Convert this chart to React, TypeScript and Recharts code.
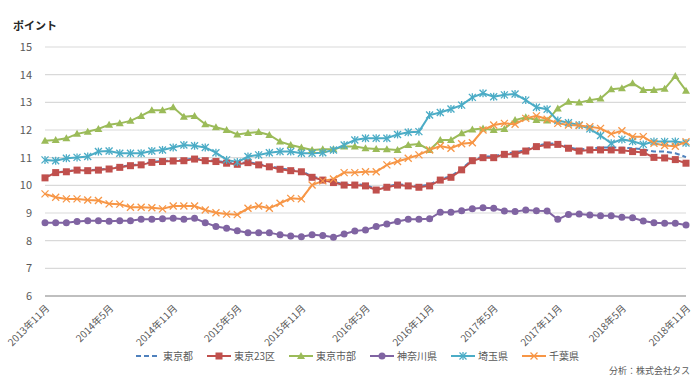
import React from "react";
import { LineChart, Line, XAxis, YAxis, CartesianGrid } from "recharts";

const months = [
  "2013年11月", "2013年12月", "2014年1月", "2014年2月", "2014年3月", "2014年4月",
  "2014年5月", "2014年6月", "2014年7月", "2014年8月", "2014年9月", "2014年10月",
  "2014年11月", "2014年12月", "2015年1月", "2015年2月", "2015年3月", "2015年4月",
  "2015年5月", "2015年6月", "2015年7月", "2015年8月", "2015年9月", "2015年10月",
  "2015年11月", "2015年12月", "2016年1月", "2016年2月", "2016年3月", "2016年4月",
  "2016年5月", "2016年6月", "2016年7月", "2016年8月", "2016年9月", "2016年10月",
  "2016年11月", "2016年12月", "2017年1月", "2017年2月", "2017年3月", "2017年4月",
  "2017年5月", "2017年6月", "2017年7月", "2017年8月", "2017年9月", "2017年10月",
  "2017年11月", "2017年12月", "2018年1月", "2018年2月", "2018年3月", "2018年4月",
  "2018年5月", "2018年6月", "2018年7月", "2018年8月", "2018年9月", "2018年10月",
  "2018年11月",
];

const tokyo = [
  10.29, 10.47, 10.51, 10.56, 10.55, 10.57, 10.61, 10.67, 10.73, 10.76, 10.85, 10.88,
  10.9, 10.92, 10.97, 10.92, 10.88, 10.83, 10.79, 10.84, 10.77, 10.7, 10.61, 10.56,
  10.52, 10.32, 10.22, 10.13, 10.04, 10.04, 10.01, 9.87, 9.96, 10.04, 10.01, 9.97,
  10.02, 10.23, 10.33, 10.6, 10.92, 11.04, 11.04, 11.16, 11.18, 11.29, 11.44, 11.5,
  11.52, 11.38, 11.29, 11.33, 11.37, 11.37, 11.36, 11.34, 11.3, 11.22, 11.22, 11.16,
  11.02,
];

const tokyo23 = [
  10.27, 10.46, 10.49, 10.55, 10.53, 10.55, 10.59, 10.65, 10.71, 10.74, 10.83, 10.86,
  10.88, 10.89, 10.95, 10.89, 10.86, 10.8, 10.76, 10.82, 10.74, 10.67, 10.58, 10.53,
  10.49, 10.29, 10.19, 10.1, 10.01, 10.01, 9.98, 9.83, 9.93, 10.01, 9.98, 9.93,
  9.98, 10.19, 10.29, 10.56, 10.89, 11.0, 11.0, 11.12, 11.13, 11.24, 11.4, 11.46,
  11.48, 11.34, 11.24, 11.28, 11.28, 11.28, 11.27, 11.22, 11.19, 11.01, 10.99, 10.93,
  10.8,
];

const tokyoCities = [
  11.61, 11.64, 11.7, 11.86, 11.94, 12.04, 12.19, 12.24, 12.33, 12.51, 12.71, 12.71,
  12.82, 12.48, 12.51, 12.21, 12.1, 12.0, 11.84, 11.89, 11.93, 11.82, 11.58, 11.46,
  11.37, 11.28, 11.3, 11.3, 11.4, 11.4, 11.34, 11.31, 11.3, 11.28, 11.46, 11.49,
  11.28, 11.64, 11.64, 11.88, 12.02, 12.05, 12.0, 12.04, 12.36, 12.46, 12.36, 12.34,
  12.78, 13.02, 12.99, 13.08, 13.14, 13.47, 13.51, 13.69, 13.45, 13.45, 13.49, 13.95,
  13.42,
];

const kanagawa = [
  8.65, 8.65, 8.65, 8.69, 8.72, 8.72, 8.7, 8.72, 8.72, 8.77, 8.77, 8.79,
  8.81, 8.77, 8.81, 8.65, 8.51, 8.45, 8.36, 8.29, 8.29, 8.29, 8.21, 8.17,
  8.14, 8.21, 8.19, 8.12, 8.24, 8.35, 8.39, 8.51, 8.6, 8.69, 8.77, 8.77,
  8.79, 9.03, 9.03, 9.08, 9.15, 9.19, 9.17, 9.07, 9.05, 9.11, 9.08, 9.07,
  8.77, 8.95, 8.96, 8.93, 8.9, 8.9, 8.85, 8.83, 8.71, 8.65, 8.63, 8.63,
  8.57,
];

const saitama = [
  10.92, 10.89, 10.98, 11.01, 11.04, 11.22, 11.24, 11.16, 11.16, 11.16, 11.24, 11.28,
  11.37, 11.46, 11.43, 11.37, 11.18, 10.92, 10.84, 11.04, 11.1, 11.18, 11.22, 11.22,
  11.16, 11.16, 11.18, 11.28, 11.46, 11.64, 11.7, 11.7, 11.7, 11.84, 11.92, 11.94,
  12.54, 12.63, 12.76, 12.9, 13.18, 13.33, 13.2, 13.27, 13.3, 13.08, 12.82, 12.75,
  12.34, 12.26, 12.18, 12.04, 11.8, 11.52, 11.66, 11.59, 11.48, 11.58, 11.58, 11.58,
  11.53,
];

const chiba = [
  9.69, 9.57, 9.51, 9.51, 9.47, 9.45, 9.33, 9.32, 9.21, 9.21, 9.19, 9.15,
  9.25, 9.25, 9.25, 9.11, 9.01, 8.96, 8.94, 9.17, 9.25, 9.17, 9.35, 9.53,
  9.51, 10.01, 10.16, 10.23, 10.46, 10.46, 10.49, 10.49, 10.74, 10.86, 10.98, 11.1,
  11.28, 11.42, 11.34, 11.5, 11.54, 12.0, 12.18, 12.24, 12.21, 12.42, 12.51, 12.39,
  12.24, 12.18, 12.16, 12.12, 12.06, 11.86, 11.97, 11.76, 11.76, 11.52, 11.44, 11.41,
  11.58,
];

const yTicks = [6, 7, 8, 9, 10, 11, 12, 13, 14, 15];

const data = months.map((month, i) => ({
  month,
  tokyo: tokyo[i],
  tokyo23: tokyo23[i],
  tokyoCities: tokyoCities[i],
  kanagawa: kanagawa[i],
  saitama: saitama[i],
  chiba: chiba[i],
}));

const FONT = "'Noto Sans CJK JP', 'Noto Sans', sans-serif";
const TEXT = "#595959";

const C = {
  tokyo: "#4F81BD",
  tokyo23: "#C0504D",
  cities: "#9BBB59",
  kanagawa: "#8064A2",
  saitama: "#4BACC6",
  chiba: "#F79646",
};

type MarkerKind = "none" | "square" | "triangle" | "circle" | "star" | "cross";

const Marker = ({ kind, cx, cy, color }: { kind: MarkerKind; cx: number; cy: number; color: string }) => {
  if (cx == null || cy == null) return null;
  const s = 3.5;
  switch (kind) {
    case "square":
      return <rect x={cx - s} y={cy - s} width={s * 2} height={s * 2} fill={color} />;
    case "triangle":
      return (
        <polygon
          points={`${cx},${cy - 4} ${cx + 4},${cy + 3} ${cx - 4},${cy + 3}`}
          fill={color}
        />
      );
    case "circle":
      return <circle cx={cx} cy={cy} r={3.5} fill={color} />;
    case "star":
      return (
        <g stroke={color} strokeWidth={1.3}>
          <line x1={cx - s} y1={cy - s} x2={cx + s} y2={cy + s} />
          <line x1={cx - s} y1={cy + s} x2={cx + s} y2={cy - s} />
          <line x1={cx} y1={cy - s - 0.5} x2={cx} y2={cy + s + 0.5} />
        </g>
      );
    case "cross":
      return (
        <g stroke={color} strokeWidth={1.3}>
          <line x1={cx - s} y1={cy - s} x2={cx + s} y2={cy + s} />
          <line x1={cx - s} y1={cy + s} x2={cx + s} y2={cy - s} />
        </g>
      );
    default:
      return null;
  }
};

const dotOf = (kind: MarkerKind, color: string) => (p: any) =>
  <Marker key={`${kind}-${p.index}`} kind={kind} cx={p.cx} cy={p.cy} color={color} />;

const MonthTick = (props: any) => {
  const { x, y, payload } = props;
  const ax = x + 5;
  const ay = y + 13;
  return (
    <text
      x={ax}
      y={ay}
      transform={`rotate(-45 ${ax} ${ay})`}
      textAnchor="end"
      fontSize={10}
      fill={TEXT}
      fontFamily={FONT}
    >
      {payload.value}
    </text>
  );
};

const legendItems = [
  { name: "東京都", color: C.tokyo, kind: "none" as MarkerKind, dashed: true },
  { name: "東京23区", color: C.tokyo23, kind: "square" as MarkerKind },
  { name: "東京市部", color: C.cities, kind: "triangle" as MarkerKind },
  { name: "神奈川県", color: C.kanagawa, kind: "circle" as MarkerKind },
  { name: "埼玉県", color: C.saitama, kind: "star" as MarkerKind },
  { name: "千葉県", color: C.chiba, kind: "cross" as MarkerKind },
];

const App = () => {
  return (
    <div style={{ position: "absolute", left: 0, top: 0, width: 699, height: 380, background: "#fff", fontFamily: FONT }}>
      <div style={{ position: "absolute", left: 13, top: 17, fontSize: 11, fontWeight: "bold", color: "#262626" }}>
        ポイント
      </div>
      <LineChart width={699} height={380} data={data} margin={{ top: 47, right: 13, left: 0, bottom: 0 }}>
        <CartesianGrid vertical={false} stroke="#D9D9D9" strokeWidth={1.2} />
        <XAxis
          dataKey="month"
          interval={5}
          height={84}
          tickLine={false}
          tickSize={0}
          tickMargin={0}
          axisLine={{ stroke: "#BFBFBF", strokeWidth: 2 }}
          tick={<MonthTick />}
        />
        <YAxis
          width={45}
          domain={[6, 15]}
          ticks={yTicks}
          axisLine={false}
          tickLine={false}
          tickSize={0}
          tickMargin={13}
          tick={{ fontSize: 11, fill: TEXT, fontFamily: FONT }}
        />
        <Line dataKey="tokyo" name="東京都" stroke={C.tokyo} strokeWidth={2} strokeDasharray="5 3" dot={false} isAnimationActive={false} />
        <Line dataKey="tokyo23" name="東京23区" stroke={C.tokyo23} strokeWidth={2} dot={dotOf("square", C.tokyo23)} isAnimationActive={false} />
        <Line dataKey="tokyoCities" name="東京市部" stroke={C.cities} strokeWidth={2} dot={dotOf("triangle", C.cities)} isAnimationActive={false} />
        <Line dataKey="kanagawa" name="神奈川県" stroke={C.kanagawa} strokeWidth={2} dot={dotOf("circle", C.kanagawa)} isAnimationActive={false} />
        <Line dataKey="saitama" name="埼玉県" stroke={C.saitama} strokeWidth={2} dot={dotOf("star", C.saitama)} isAnimationActive={false} />
        <Line dataKey="chiba" name="千葉県" stroke={C.chiba} strokeWidth={2} dot={dotOf("cross", C.chiba)} isAnimationActive={false} />
      </LineChart>
      <div style={{ position: "absolute", left: 136, top: 348, display: "flex", alignItems: "center", fontSize: 10, color: TEXT }}>
        {legendItems.map((it) => (
          <div key={it.name} style={{ display: "flex", alignItems: "center", marginRight: 14 }}>
            <svg width={24} height={12} style={{ marginRight: 3 }}>
              <line x1={0} y1={6} x2={24} y2={6} stroke={it.color} strokeWidth={2} strokeDasharray={it.dashed ? "5 3" : undefined} />
              <Marker kind={it.kind} cx={12} cy={6} color={it.color} />
            </svg>
            <span>{it.name}</span>
          </div>
        ))}
      </div>
      <div style={{ position: "absolute", right: 9, top: 364, fontSize: 9, color: TEXT }}>
        分析：株式会社タス
      </div>
    </div>
  );
};

export default App;
